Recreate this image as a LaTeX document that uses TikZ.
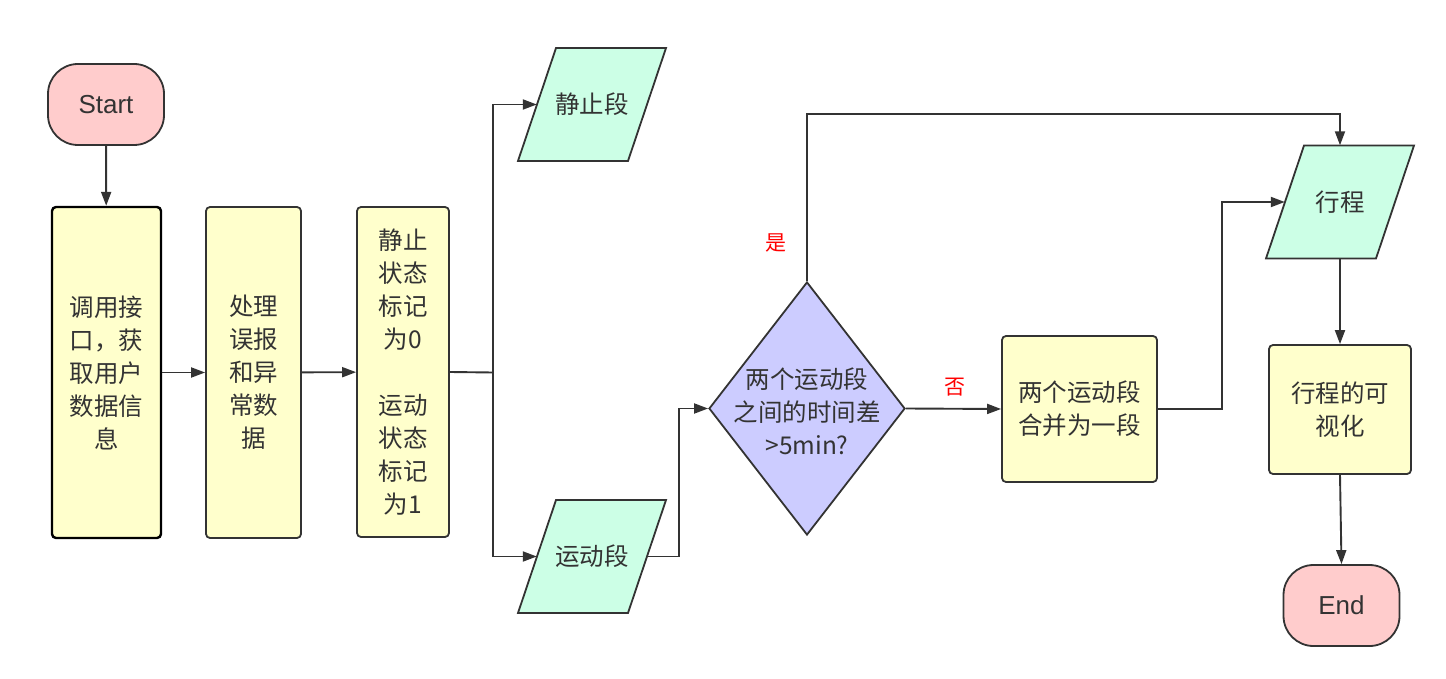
\documentclass[tikz,border=0pt]{standalone}
\usepackage{fontspec}
\setmainfont{Noto Sans CJK SC}
\newfontfamily\latfont{Liberation Sans}
\usetikzlibrary{arrows.meta,shapes.geometric}
\definecolor{linecol}{HTML}{333333}
\definecolor{termfill}{HTML}{FFCCCC}
\definecolor{boxfill}{HTML}{FFFFCC}
\definecolor{parafill}{HTML}{CCFFE6}
\definecolor{decfill}{HTML}{CCCCFF}
\tikzset{
  term/.style={draw=linecol,fill=termfill,line width=1.8pt,rounded corners=30pt,minimum width=116pt,minimum height=81pt,inner sep=0pt,text=linecol,font=\latfont\fontsize{26}{30}\selectfont},
  procbox/.style={draw=linecol,fill=boxfill,line width=1.8pt,rounded corners=4pt,inner sep=0pt,text=linecol,align=center,font=\fontsize{24.5}{33}\selectfont},
  parashape/.style={draw=linecol,fill=parafill,line width=1.8pt},
  parabox/.style={minimum width=110pt,minimum height=113pt,inner sep=0pt,text=linecol,font=\fontsize{24.5}{33}\selectfont},
  decshape/.style={diamond,draw=linecol,fill=decfill,line width=1.8pt,minimum width=196pt,minimum height=253pt,inner sep=0pt},
  conn/.style={draw=linecol,line width=1.9pt},
  arr/.style={conn,-{Triangle[length=14pt,width=10pt]}},
  yn/.style={text=red,font=\fontsize{21}{24}\selectfont,inner sep=0pt}
}
\newcommand\mypara[4]{%
  \filldraw[parashape] (#2-74,#3+56.5) -- (#2+36,#3+56.5) -- (#2+74,#3-56.5) -- (#2-36,#3-56.5) -- cycle;
  \node[parabox] (#1) at (#2,#3) {#4};}
\begin{document}
\begin{tikzpicture}[x=1pt,y=-1pt]
\useasboundingbox (0,0) rectangle (1446,679);
\node[term] (start) at (106,104.5) {Start};
\node[procbox,draw=black,line width=2.4pt,minimum width=109pt,minimum height=331pt] (b1) at (106.5,372.5) {调用接\\口，获\\取用户\\数据信\\息};
\node[procbox,minimum width=95pt,minimum height=331pt] (b2) at (253.5,372.5) {处理\\误报\\和异\\常数\\据};
\node[procbox,minimum width=92pt,minimum height=330pt] (b3) at (403,372) {静止\\状态\\标记\\为0\\[33pt]运动\\状态\\标记\\为1};
\mypara{still}{592}{104.5}{静止段}
\mypara{move}{592}{556.5}{运动段}
\node[decshape] (dec) at (807,408.5) {};
\node[text=linecol,align=center,font=\fontsize{24.5}{33}\selectfont,inner sep=0pt] (dect) at (807,411) {两个运动段\\之间的时间差\\>5min?};
\node[procbox,minimum width=155pt,minimum height=146pt] (merge) at (1079.5,409) {两个运动段\\合并为一段};
\mypara{trip}{1340}{202}{行程}
\node[procbox,minimum width=142pt,minimum height=129pt] (vis) at (1340,409.5) {行程的可\\视化};
\node[term] (end) at (1341.5,605.5) {End};
\coordinate (sp) at (493,372.5);
\draw[arr] (start) -- (b1);
\draw[arr] (b1) -- (b2);
\draw[arr] (b2) -- (b3);
\draw[conn] (b3.east) -- (sp);
\draw[arr] (sp) |- (still.west);
\draw[arr] (sp) |- (move.west);
\draw[arr] (move.east) -- ++(32,0) |- (dec.west);
\draw[arr] (dec.north) -- ++(0,-167) -| (trip.north);
\draw[arr] (dec.east) -- (merge.west);
\draw[arr] (merge.east) -- ++(64,0) |- (trip.west);
\draw[arr] (trip.south) -- (vis.north);
\draw[arr] (vis.south) -- (end.north);
\node[yn] (yes) at (776,243) {是};
\node[yn] (no) at (955,387) {否};
\end{tikzpicture}
\end{document}
